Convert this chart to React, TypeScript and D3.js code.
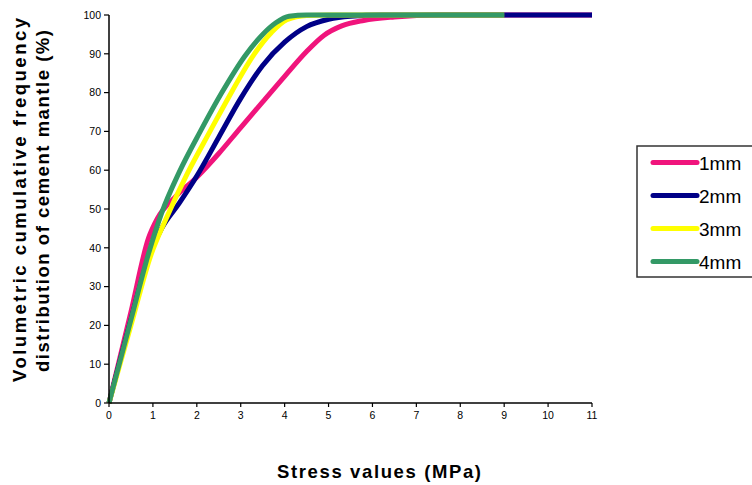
import React from 'react';
import * as d3 from 'd3';

// stress (MPa) vs cumulative volume fraction (%)
const seriesNames = ['1mm', '2mm', '3mm', '4mm'];
const seriesColors = ['#F0147C', '#000087', '#FFFF00', '#339966'];

const x1mm = [0, 0.5, 0.9, 1.1, 1.5, 2, 2.5, 3, 3.5, 4, 4.5, 4.9, 5.3, 5.8, 6.5, 7.5, 9, 11];
const y1mm = [0, 23.5, 42.5, 47.5, 53, 58.2, 64.3, 71, 77.6, 84.2, 90.6, 94.8, 97.2, 98.6, 99.5, 100, 100, 100];

const x2mm = [0, 0.5, 0.9, 1.2, 1.6, 2, 2.5, 3, 3.5, 4, 4.5, 5, 5.5, 6.2, 9, 11];
const y2mm = [0, 21.5, 37.5, 45, 51.5, 58.5, 68.5, 78.5, 87, 93, 97, 98.9, 99.7, 100, 100, 100];

const x3mm = [0, 0.5, 0.95, 1.3, 1.8, 2.3, 2.8, 3.3, 3.7, 4.05, 4.5, 5, 9];
const y3mm = [0, 20, 38, 47.5, 59.5, 70, 80.3, 89.8, 95.5, 98.8, 99.9, 100, 100];

const x4mm = [0, 0.5, 0.9, 1.2, 1.6, 2.08, 2.57, 3.1, 3.5, 3.8, 4.1, 4.5, 9];
const y4mm = [0, 21.5, 38.5, 49, 59.5, 70, 80, 89.5, 95, 98, 99.7, 100, 100];

const xValues = [x1mm, x2mm, x3mm, x4mm];
const yValues = [y1mm, y2mm, y3mm, y4mm];

const xTicks = d3.range(0, 12);
const yTicks = d3.range(0, 110, 10);

const W = 752;
const H = 485;
const LEFT = 109;
const RIGHT = 592;
const TOP = 15;
const BOTTOM = 403;

export default function App() {
  const x = d3.scaleLinear().domain([0, 11]).range([LEFT, RIGHT]);
  const y = d3.scaleLinear().domain([0, 100]).range([BOTTOM, TOP]);

  const line = d3
    .line<[number, number]>()
    .x((d) => x(d[0]))
    .y((d) => y(d[1]))
    .curve(d3.curveMonotoneX);

  const font = 'Arial, "Liberation Sans", sans-serif';

  return (
    <svg
      width={W}
      height={H}
      viewBox={`0 0 ${W} ${H}`}
      style={{ position: 'absolute', left: 0, top: 0, background: '#fff' }}
      fontFamily={font}
    >
      {/* curves */}
      <g fill="none" strokeWidth={5} strokeLinejoin="round">
        {xValues.map((xs, i) => (
          <path
            key={seriesNames[i]}
            d={line(xs.map((v, j) => [v, yValues[i][j]] as [number, number])) || ''}
            stroke={seriesColors[i]}
          />
        ))}
      </g>

      {/* y axis */}
      <line x1={LEFT} x2={LEFT} y1={TOP} y2={BOTTOM} stroke="#000" strokeWidth={1.5} />
      {yTicks.map((t) => (
        <g key={`y${t}`}>
          <line x1={LEFT - 5} x2={LEFT} y1={y(t)} y2={y(t)} stroke="#000" strokeWidth={1.2} />
          <text x={LEFT - 8} y={y(t)} dy="0.36em" textAnchor="end" fontSize={10.5} fill="#000">
            {t}
          </text>
        </g>
      ))}

      {/* x axis */}
      <line x1={LEFT} x2={RIGHT} y1={BOTTOM} y2={BOTTOM} stroke="#000" strokeWidth={1.5} />
      {xTicks.map((t) => (
        <g key={`x${t}`}>
          <line x1={x(t)} x2={x(t)} y1={BOTTOM} y2={BOTTOM + 4} stroke="#000" strokeWidth={1.2} />
          <text x={x(t)} y={419} textAnchor="middle" fontSize={10.5} fill="#000">
            {t}
          </text>
        </g>
      ))}

      {/* axis titles */}
      <text
        x={379}
        y={478}
        textAnchor="middle"
        fontSize={18.5}
        fontWeight="bold"
        textLength={204}
        lengthAdjust="spacing"
      >
        Stress values (MPa)
      </text>
      <text
        transform="translate(26,200) rotate(-90)"
        textAnchor="middle"
        fontSize={18.5}
        fontWeight="bold"
        textLength={364}
        lengthAdjust="spacing"
      >
        Volumetric cumulative frequency
      </text>
      <text
        transform="translate(49,201) rotate(-90)"
        textAnchor="middle"
        fontSize={18.5}
        fontWeight="bold"
        textLength={342}
        lengthAdjust="spacing"
      >
        distribution of cement mantle (%)
      </text>

      {/* legend */}
      <rect x={637} y={146} width={130} height={131} fill="#fff" stroke="#333" strokeWidth={1.5} />
      {seriesNames.map((name, i) => {
        const ly = 162.5 + i * 33;
        return (
          <g key={`leg${name}`}>
            <line
              x1={653}
              x2={697}
              y1={ly}
              y2={ly}
              stroke={seriesColors[i]}
              strokeWidth={5}
              strokeLinecap="round"
            />
            <text x={699} y={ly + 7} fontSize={19} fill="#000">
              {name}
            </text>
          </g>
        );
      })}
    </svg>
  );
}
